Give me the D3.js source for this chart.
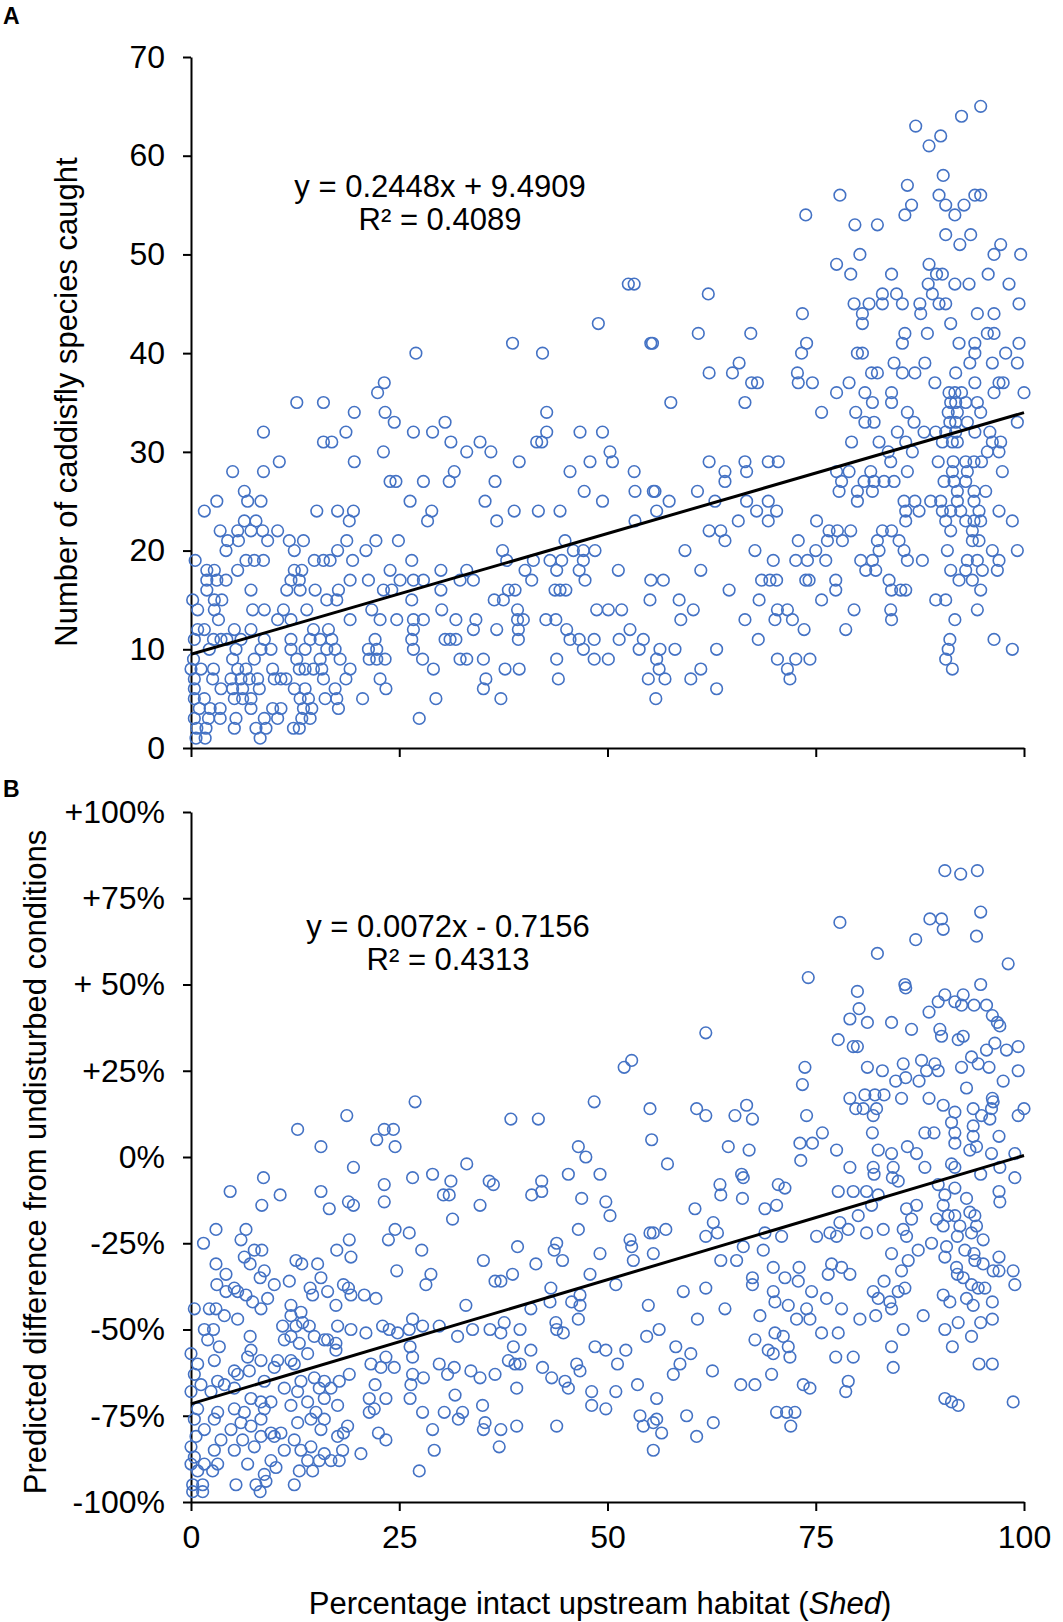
<!DOCTYPE html>
<html>
<head>
<meta charset="utf-8">
<script src="https://cdn.jsdelivr.net/npm/d3@7"></script>
<style>body{margin:0;background:#fff}</style>
</head>
<body>
<div id="chart"></div>
<script>
// Panel A: [Shed %, number of caddisfly species caught]
var pointsA = [
  [27.0,40],[23.2,37],[22.4,36],[12.7,35],[15.9,35],[19.6,34],[23.3,34],[24.4,33],[30.5,33],
  [8.7,32],[18.6,32],[26.7,32],[29.0,32],[15.9,31],[16.9,31],[31.2,31],[23.1,30],[33.1,30],
  [10.6,29],[19.6,29],[5.0,28],[8.7,28],[31.6,28],[23.9,27],[24.6,27],[27.9,27],[31.0,27],[6.4,26],
  [3.1,25],[6.8,25],[8.4,25],[26.3,25],[1.6,24],[15.1,24],[17.6,24],[19.5,24],[28.9,24],
  [6.4,23],[7.8,23],[19.0,23],[28.4,23],[3.5,22],[5.6,22],[7.2,22],[8.6,22],[10.4,22],
  [4.4,21],[5.7,21],[9.2,21],[11.8,21],[13.5,21],[18.7,21],[22.2,21],[24.9,21],
  [4.2,20],[12.4,20],[17.6,20],[21.0,20],
  [0.5,19],[6.6,19],[7.6,19],[8.7,19],[14.8,19],[15.9,19],[16.7,19],[19.4,19],[26.5,19],
  [1.9,18],[2.8,18],[5.6,18],[12.4,18],[13.3,18],[23.9,18],[30.0,18],[33.1,18],
  [1.9,17],[3.1,17],[4.2,17],[12.0,17],[13.0,17],[19.1,17],[21.3,17],[25.1,17],[26.7,17],[27.9,17],[32.3,17],[33.9,17],
  [1.9,16],[7.2,16],[11.5,16],[13.1,16],[14.9,16],[17.7,16],[23.1,16],[24.1,16],[30.0,16],
  [0.2,15],[2.8,15],[3.7,15],[16.3,15],[17.5,15],[26.5,15],
  [0.8,14],[2.8,14],[7.4,14],[8.8,14],[11.1,14],[13.9,14],[21.7,14],[30.1,14],
  [3.3,13],[10.4,13],[12.0,13],[19.1,13],[22.7,13],[24.7,13],[26.7,13],[27.9,13],[31.8,13],[34.2,13],
  [0.8,12],[1.6,12],[5.2,12],[7.2,12],[14.7,12],[16.5,12],[26.7,12],[33.9,12],
  [0.4,11],[2.7,11],[3.6,11],[4.3,11],[6.0,11],[8.8,11],[12.0,11],[14.3,11],[15.5,11],[16.9,11],[22.1,11],[26.5,11],[30.5,11],[31.1,11],[31.8,11],
  [2.2,10],[5.4,10],[8.4,10],[9.6,10],[12.0,10],[13.7,10],[16.3,10],[17.3,10],[21.3,10],[22.3,10],[26.7,10],
  [0.3,9],[5.0,9],[7.6,9],[12.7,9],[15.5,9],[17.9,9],[21.4,9],[22.3,9],[23.3,9],[27.8,9],[32.3,9],[33.1,9],
  [0.0,8],[1.2,8],[2.7,8],[5.6,8],[6.6,8],[9.8,8],[13.0,8],[13.7,8],[14.7,8],[15.7,8],[19.1,8],[29.1,8],
  [0.4,7],[2.6,7],[4.8,7],[6.0,7],[7.0,7],[8.0,7],[10.0,7],[10.8,7],[11.4,7],[15.9,7],[18.6,7],[22.7,7],
  [0.4,6],[3.6,6],[5.0,6],[6.2,6],[8.2,6],[12.4,6],[13.7,6],[17.3,6],[23.4,6],
  [0.4,5],[1.6,5],[5.2,5],[6.2,5],[7.2,5],[13.1,5],[14.1,5],[16.1,5],[17.5,5],[20.6,5],[29.4,5],
  [1.0,4],[2.3,4],[3.5,4],[7.2,4],[9.8,4],[10.8,4],[13.5,4],[14.5,4],[17.7,4],
  [0.4,3],[2.1,3],[3.5,3],[5.4,3],[8.8,3],[10.4,3],[13.3,3],[14.3,3],[27.4,3],
  [0.7,2],[1.8,2],[5.2,2],[7.8,2],[9.0,2],[12.3,2],[13.0,2],[0.6,1],[1.7,1],[8.3,1],
  // middle
  [52.5,47],[53.2,47],[62.1,46],[48.9,43],[60.9,42],[67.2,42],[38.6,41],[55.2,41],[55.4,41],[42.2,40],
  [65.8,39],[62.2,38],[65.0,38],[67.3,37],[68.0,37],[57.6,35],[66.5,35],[42.7,34],
  [42.7,32],[46.7,32],[49.4,32],[34.7,31],[41.5,31],[42.1,31],[36.0,30],[50.3,30],
  [39.4,29],[47.9,29],[50.6,29],[62.2,29],[66.5,29],[69.3,29],[70.5,29],
  [45.5,28],[53.2,28],[64.1,28],[66.7,28],[36.5,27],[64.1,27],
  [47.2,26],[53.3,26],[55.5,26],[55.7,26],[60.8,26],[35.3,25],[49.4,25],[57.4,25],[62.9,25],[66.7,25],[69.3,25],
  [38.8,24],[41.7,24],[44.3,24],[55.9,24],[67.9,24],[70.3,24],[36.7,23],[53.3,23],[65.7,23],[69.3,23],
  [62.2,22],[63.6,22],[44.9,21],[64.1,21],[37.4,20],[45.9,20],[47.1,20],[48.5,20],[59.3,20],[67.7,20],
  [37.9,19],[41.1,19],[43.1,19],[44.5,19],[47.1,19],[69.9,19],[40.1,18],[43.9,18],[46.6,18],[51.3,18],[61.2,18],
  [40.9,17],[47.3,17],[55.2,17],[56.7,17],[68.5,17],[69.5,17],[70.3,17],
  [38.1,16],[38.9,16],[43.7,16],[44.3,16],[45.0,16],[64.6,16],[36.4,15],[37.5,15],[55.1,15],[58.6,15],[68.2,15],
  [39.2,14],[48.7,14],[50.1,14],[51.7,14],[60.3,14],[70.4,14],
  [39.2,13],[39.9,13],[42.6,13],[43.8,13],[58.8,13],[66.5,13],[70.1,13],[36.7,12],[39.3,12],[45.1,12],[52.7,12],
  [39.3,11],[45.5,11],[46.6,11],[48.4,11],[51.4,11],[54.3,11],[68.1,11],
  [47.1,10],[53.8,10],[56.3,10],[58.1,10],[63.1,10],[35.1,9],[43.9,9],[48.4,9],[50.1,9],[55.9,9],[70.4,9],
  [37.7,8],[39.4,8],[56.2,8],[61.2,8],[35.4,7],[44.1,7],[54.9,7],[56.9,7],[60.0,7],[35.1,6],[63.1,6],[37.2,5],[55.8,5],
  // right
  [94.8,65],[92.5,64],[87.0,63],[90.0,62],[88.6,61],[90.3,58],[86.0,57],
  [77.9,56],[89.8,56],[94.1,56],[94.8,56],[86.5,55],[90.6,55],[92.8,55],[73.8,54],[85.7,54],[91.7,54],
  [79.7,53],[82.4,53],[90.6,52],[93.6,52],[92.3,51],[97.2,51],[80.3,50],[96.4,50],[99.6,50],[77.5,49],[88.6,49],
  [79.2,48],[84.1,48],[89.5,48],[90.2,48],[95.7,48],[88.5,47],[91.7,47],[93.4,47],[98.2,47],
  [83.0,46],[84.7,46],[89.0,46],[79.6,45],[81.4,45],[83.0,45],[85.4,45],[87.5,45],[89.8,45],[90.6,45],[99.4,45],
  [73.4,44],[80.6,44],[87.6,44],[94.4,44],[96.4,44],[80.6,43],[91.2,43],
  [85.7,42],[88.4,42],[95.6,42],[96.4,42],[73.9,41],[85.4,41],[92.2,41],[94.1,41],[99.4,41],
  [73.3,40],[80.0,40],[80.6,40],[94.1,40],[97.8,40],[84.4,39],[88.1,39],[93.5,39],[96.2,39],[99.2,39],
  [72.8,38],[81.7,38],[82.4,38],[85.4,38],[86.9,38],[91.8,38],
  [72.9,37],[74.6,37],[79.0,37],[89.3,37],[94.1,37],[97.0,37],[97.5,37],
  [77.5,36],[80.9,36],[84.1,36],[91.0,36],[91.7,36],[92.5,36],[96.4,36],[100,36],
  [81.8,35],[84.1,35],[91.2,35],[91.8,35],[93.0,35],[94.4,35],
  [75.7,34],[79.8,34],[86.0,34],[90.9,34],[92.0,34],[94.8,34],
  [80.9,33],[82.0,33],[86.8,33],[91.1,33],[91.8,33],[93.2,33],[99.2,33],
  [84.8,32],[88.0,32],[89.4,32],[90.6,32],[91.8,32],[94.1,32],[95.9,32],
  [79.3,31],[82.6,31],[85.8,31],[90.2,31],[91.4,31],[92.0,31],[96.2,31],[97.2,31],
  [95.6,30],[97.0,30],[83.7,30],[86.6,30],[84.0,29],[89.7,29],[91.5,29],[93.0,29],[94.0,29],[94.9,29],
  [77.5,28],[79.0,28],[81.6,28],[86.0,28],[91.4,28],[93.2,28],[97.4,28],
  [78.1,27],[80.8,27],[82.0,27],[83.2,27],[84.4,27],[90.4,27],[91.6,27],[93.0,27],
  [77.8,26],[80.0,26],[81.8,26],[92.0,26],[94.0,26],[95.4,26],
  [80.0,25],[85.6,25],[86.9,25],[88.8,25],[90.0,25],[92.0,25],[94.0,25],
  [85.8,24],[87.4,24],[90.2,24],[91.2,24],[92.4,24],[94.6,24],[97.0,24],
  [75.1,23],[85.8,23],[90.6,23],[93.0,23],[94.0,23],[94.8,23],[98.6,23],
  [76.6,22],[77.6,22],[79.2,22],[83.0,22],[84.1,22],[91.2,22],[93.8,22],
  [72.9,21],[76.4,21],[78.2,21],[82.4,21],[85.0,21],[93.8,21],[94.6,21],
  [75.0,20],[82.6,20],[85.6,20],[90.8,20],[96.2,20],[99.2,20],
  [72.6,19],[74.0,19],[76.2,19],[80.4,19],[81.8,19],[86.0,19],[87.8,19],[93.2,19],[94.4,19],[97.0,19],
  [81.0,18],[82.2,18],[91.2,18],[93.0,18],[95.0,18],[96.8,18],
  [73.8,17],[74.2,17],[77.4,17],[83.8,17],[92.2,17],[93.8,17],
  [84.1,16],[85.2,16],[85.8,16],[77.4,16],[94.8,16],[75.7,15],[89.4,15],[90.6,15],
  [71.6,14],[79.6,14],[84.0,14],[94.4,14],[72.2,13],[84.1,13],[91.7,13],[73.6,12],[78.6,12],
  [91.1,11],[96.4,11],[98.6,10],[90.9,10],[72.6,9],[74.3,9],[90.6,9],[71.6,8],[91.4,8],[71.9,7]
];

// Panel B: [Shed %, predicted difference from undisturbed conditions, %]
var pointsB = [
  [26.9,16],[18.7,12],[12.8,8],[23.2,8],[24.3,8],[22.3,5],[24.5,3],[15.6,3],[19.5,-3],[33.1,-2],
  [8.7,-6],[26.6,-6],[29.0,-5],[31.2,-7],[4.7,-10],[10.7,-11],[15.6,-10],[23.2,-8],
  [8.5,-14],[16.6,-15],[18.9,-13],[19.5,-14],[23.2,-13],[30.3,-11],[31.0,-11],
  [3.0,-21],[6.6,-21],[24.5,-21],[26.2,-22],[31.4,-18],[1.5,-25],[6.0,-24],[19.0,-24],[23.7,-24],
  [7.6,-27],[8.5,-27],[17.5,-27],[27.7,-27],[6.4,-29],[19.2,-29],[3.0,-31],[7.1,-31],[12.6,-30],[13.3,-31],[15.2,-31],
  [24.7,-33],[8.8,-33],[28.8,-34],[4.2,-34],[8.3,-35],[15.6,-35],
  [3.1,-37],[10.0,-37],[11.8,-36],[28.2,-37],[5.2,-38],[14.3,-38],[18.3,-37],[18.9,-38],
  [4.2,-39],[5.6,-39],[14.6,-40],[16.4,-39],[19.2,-40],[20.8,-40],[22.2,-41],
  [6.6,-40],[7.4,-42],[8.4,-44],[9.2,-41],[17.4,-43],[33.0,-43],[0.4,-44],[2.2,-44],[3.0,-44],[12.0,-43],[13.2,-45],
  [4.0,-46],[5.6,-47],[12.0,-46],
  [1.6,-50],[2.7,-50],[11.0,-49],[12.6,-49],[13.4,-48],[14.2,-49],[17.6,-49],[19.2,-50],[21.0,-51],[23.0,-49],
  [23.8,-50],[24.8,-51],[26.6,-47],[27.8,-49],[29.8,-49],[33.8,-50],
  [7.1,-52],[12.0,-52],[14.8,-52],[16.0,-53],[26.2,-50],[32.0,-52],[2.0,-53],[11.2,-53],[13.0,-54],[16.4,-53],[17.4,-54],
  [3.4,-55],[0.0,-57],[7.2,-56],[14.0,-57],[17.4,-56],[26.3,-55],
  [2.8,-59],[8.4,-59],[6.8,-58],[10.4,-59],[12.0,-59],[21.6,-60],[23.4,-58],[26.6,-58],
  [0.8,-60],[5.2,-62],[10.0,-61],[12.4,-60],[22.8,-61],[24.4,-61],[29.8,-60],[31.6,-61],[33.6,-62],
  [0.4,-63],[3.2,-65],[5.6,-63],[7.0,-62],[14.8,-64],[19.0,-63],[30.8,-63],
  [1.2,-66],[4.0,-66],[8.8,-65],[13.2,-65],[16.0,-65],[17.8,-65],[26.6,-63],[27.9,-64],
  [0.0,-68],[2.4,-68],[5.2,-67],[11.2,-67],[12.8,-68],[15.4,-67],[16.8,-67],[22.1,-66],[26.4,-66],
  [7.2,-70],[8.4,-71],[9.6,-71],[12.0,-72],[14.0,-71],[16.0,-70],[21.4,-70],[23.4,-70],[26.3,-70],[31.7,-69],
  [0.8,-73],[3.2,-74],[5.2,-73],[6.4,-74],[8.8,-73],[15.0,-74],[17.6,-72],[21.4,-74],[22.0,-73],
  [0.4,-76],[2.8,-76],[6.0,-77],[8.4,-76],[12.8,-77],[14.4,-76],[16.0,-76],[27.8,-74],[30.4,-74],[32.6,-74],[32.1,-76],
  [1.6,-79],[4.8,-79],[7.2,-78],[9.6,-80],[10.8,-80],[15.6,-79],[18.3,-80],[18.8,-78],[29.0,-79],
  [0.6,-81],[3.6,-82],[6.2,-82],[8.4,-81],[10.0,-81],[12.4,-82],[17.6,-81],[22.5,-80],[23.4,-82],
  [2.8,-85],[5.2,-85],[7.6,-84],[11.2,-85],[13.2,-85],[14.4,-84],[16.0,-86],[18.2,-85],[20.4,-86],[29.2,-85],
  [0.4,-87],[1.6,-89],[3.2,-89],[6.8,-89],[9.6,-88],[14.0,-88],[15.4,-88],[16.8,-88],[17.8,-88],
  [0.8,-91],[2.6,-91],[8.8,-92],[10.2,-90],[13.0,-91],[14.6,-91],[27.4,-91],
  [0.2,-95],[1.4,-95],[5.4,-95],[7.8,-95],[9.0,-94],[12.4,-95],[0.2,-97],[1.4,-97],[8.3,-97],[0.0,-89],[0.0,-84],
  // middle
  [61.8,36],[52.9,28],[52.0,26],[48.4,16],[38.4,11],[41.7,11],[55.1,14],[60.7,14],[61.8,12],[65.3,12],[66.7,15],[67.4,11],
  [55.3,5],[57.2,-2],[46.5,3],[47.4,0],[64.5,3],[67.0,2],
  [35.8,-7],[36.3,-8],[42.1,-7],[40.9,-11],[42.1,-10],[45.3,-5],[49.1,-5],[34.7,-14],
  [46.9,-12],[49.8,-13],[50.3,-17],[63.5,-8],[63.6,-11],[66.1,-5],[66.3,-6],[66.2,-12],
  [70.5,-8],[68.9,-15],[70.3,-14],[60.5,-15],[62.7,-19],[61.8,-23],[63.2,-22],
  [46.5,-21],[43.9,-25],[43.6,-27],[44.6,-30],[39.2,-26],[35.1,-30],
  [41.4,-31],[38.6,-34],[36.5,-36],[37.2,-36],[49.1,-28],[47.9,-34],[51.0,-37],
  [52.7,-24],[52.9,-26],[53.1,-30],[55.1,-22],[55.5,-22],[57.0,-21],[55.5,-28],
  [63.6,-30],[65.5,-30],[66.3,-26],[68.9,-22],[68.7,-27],[69.9,-32],[67.4,-35],[67.4,-37],
  [43.2,-38],[43.1,-42],[45.7,-42],[46.7,-40],[46.7,-43],[46.5,-47],
  [40.8,-44],[37.6,-48],[35.9,-50],[37.2,-51],[39.5,-50],[43.8,-48],[43.9,-50],[44.7,-51],
  [54.9,-43],[59.1,-39],[61.8,-38],[64.1,-44],[60.8,-47],[68.3,-46],[69.9,-39],[70.1,-42],
  [54.7,-52],[56.2,-50],[67.7,-53],[70.1,-51],
  [38.7,-55],[40.8,-56],[38.1,-59],[38.9,-60],[39.5,-60],[36.5,-63],[39.1,-67],
  [34.7,-64],[35.0,-72],[35.3,-77],[35.1,-79],[37.2,-79],[39.1,-78],[37.0,-84],
  [48.5,-55],[49.8,-56],[52.2,-56],[51.2,-60],[42.2,-61],[43.3,-64],[44.9,-65],[45.3,-67],[46.3,-60],[46.7,-62],
  [48.1,-68],[48.1,-72],[49.8,-73],[51.0,-68],[43.9,-78],
  [53.6,-66],[55.9,-70],[53.9,-75],[54.3,-78],[55.5,-77],[55.9,-76],[56.5,-80],[55.5,-85],
  [58.2,-55],[58.7,-60],[60.0,-57],[57.9,-63],[62.6,-62],[66.0,-66],[67.7,-66],
  [59.5,-75],[62.7,-77],[60.7,-81],[69.3,-56],[69.9,-57],[69.7,-63],[70.3,-74],
  // right
  [90.5,83],[92.4,82],[94.4,83],[77.9,68],[88.7,69],[90.1,69],[90.3,66],[94.8,71],[94.3,64],[87.0,63],[82.4,59],[98.1,56],
  [74.1,52],[85.7,50],[85.8,49],[80.0,48],[94.8,50],[90.5,47],[92.7,47],[89.7,45],[91.7,45],[88.6,42],[92.5,44],
  [94.0,44],[95.5,44],[96.2,41],[97.1,38],[96.8,39],[80.2,43],[79.1,40],[81.2,39],[84.1,39],[86.5,37],
  [77.7,34],[79.5,32],[80.0,32],[89.9,37],[90.1,35],[92.1,34],[92.7,35],[73.7,26],[73.4,21],
  [81.2,26],[83.0,25],[85.5,27],[87.7,28],[89.3,27],[89.7,25],[85.8,23],[84.6,22],[87.4,22],[88.3,25],
  [92.5,26],[93.7,29],[94.5,27],[95.8,26],[95.5,31],[96.5,33],[97.9,31],[99.3,32],[99.3,25],[97.5,22],
  [79.1,17],[80.9,18],[82.1,18],[83.2,18],[79.8,14],[80.7,14],[82.3,14],[81.9,12],[85.3,17],[88.6,17],
  [93.1,20],[96.2,17],[96.3,16],[96.1,14],[90.3,15],[91.7,13],[93.9,14],[94.9,12],[95.9,11],[100,14],[99.3,12],
  [73.9,12],[75.8,7],[73.1,4],[74.6,4],[77.5,2],[81.8,7],[88.1,7],[89.2,7],[91.3,10],[91.7,7],[93.9,9],[93.9,6],[97.0,6],
  [82.5,2],[84.1,1],[86.0,3],[87.1,1],[91.7,4],[93.5,2],[94.3,3],[96.1,1],[98.9,1],
  [73.2,-1],[79.1,-3],[81.9,-3],[82.0,-5],[84.3,-3],[84.2,-6],[84.9,-7],[88.1,-3],[91.3,-2],[91.7,-3],[94.8,-5],[97.1,-3],[98.9,-6],
  [71.3,-9],[77.7,-10],[79.5,-10],[81.1,-10],[82.5,-11],[81.7,-14],[89.7,-8],[90.5,-11],[91.7,-9],[93.1,-12],[97.0,-10],[97.1,-13],
  [85.9,-15],[87.1,-14],[86.5,-18],[90.3,-14],[90.9,-17],[91.7,-17],[93.5,-16],[94.1,-17],[80.1,-17],[77.9,-19],
  [89.5,-18],[90.3,-20],[92.3,-20],[94.3,-20],[70.9,-23],[75.1,-23],[76.7,-22],[77.5,-23],[78.9,-21],[81.1,-22],
  [83.1,-21],[85.5,-21],[85.9,-23],[92.0,-23],[93.7,-22],[95.1,-24],[88.9,-25],[90.7,-26],[90.5,-29],[84.1,-28],
  [86.1,-30],[87.3,-27],[92.9,-27],[94.0,-28],[94.1,-30],[97.0,-29],[73.0,-32],[76.9,-31],[78.1,-32],[79.1,-34],
  [71.3,-35],[72.9,-36],[76.5,-34],[85.3,-33],[91.9,-32],[92.0,-34],[95.1,-31],[96.3,-33],[97.0,-33],[98.7,-33],[98.9,-37],
  [83.2,-36],[84.9,-39],[85.7,-38],[81.9,-39],[82.5,-41],[83.9,-42],[84.1,-44],[92.7,-35],[93.7,-37],[94.5,-38],[95.3,-38],
  [90.3,-40],[91.1,-42],[93.1,-41],[93.9,-43],[96.2,-42],[71.7,-43],[74.5,-39],[76.3,-41],[73.9,-44],[74.3,-47],[72.7,-47],
  [78.1,-44],[80.3,-47],[82.2,-46],[87.9,-46],[92.1,-48],[94.8,-48],[96.2,-47],[75.7,-51],[77.7,-51],[85.5,-50],
  [90.5,-50],[93.7,-52],[71.1,-52],[71.7,-55],[71.9,-58],[84.1,-55],[91.4,-55],[77.4,-58],[79.5,-58],[84.3,-61],
  [94.6,-60],[96.2,-60],[73.5,-66],[74.3,-67],[78.9,-65],[78.6,-68],[90.5,-70],[91.3,-71],[92.1,-72],[98.7,-71],
  [71.5,-74],[72.5,-74],[72.0,-78]
];

// Fitted lines as printed on the chart
var fitA = {slope: 0.2448, intercept: 9.4909};
var fitB = {slope: 0.0072, intercept: -0.7156};
var eqA = ['y = 0.2448x + 9.4909', 'R² = 0.4089'];
var eqB = ['y = 0.0072x - 0.7156', 'R² = 0.4313'];

var xTicks = [0, 25, 50, 75, 100];
var yTicksA = [0, 10, 20, 30, 40, 50, 60, 70];
var yTicksB = [-100, -75, -50, -25, 0, 25, 50, 75, 100];
var yLabelsB = ['-100%', '-75%', '-50%', '-25%', '0%', '+25%', '+ 50%', '+75%', '+100%'];

var font = '"Liberation Sans", Arial, Helvetica, sans-serif';
var blue = '#4472C4';

var svg = d3.select('#chart')
    .append('svg')
    .attr('width', 1063)
    .attr('height', 1622)
    .style('background', '#fff');

// Scales
var x = d3.scaleLinear().domain([0, 100]).range([191, 1024]);
var yA = d3.scaleLinear().domain([0, 70]).range([748, 57]);
var yB = d3.scaleLinear().domain([-100, 100]).range([1502, 812]);

function styleAxis(g) {
    g.attr('font-family', null).attr('font-size', null);
    g.selectAll('path, line').attr('stroke', '#000').attr('stroke-width', 2);
    g.selectAll('text').attr('font-family', font).attr('font-size', 32).attr('fill', '#000');
}

// Panel A axes
svg.append('g')
    .attr('transform', 'translate(191,0)')
    .call(d3.axisLeft(yA).tickValues(yTicksA).tickFormat(d3.format('d'))
        .tickSize(8).tickSizeOuter(0).tickPadding(18))
    .call(styleAxis);
svg.append('g')
    .attr('transform', 'translate(0,748)')
    .call(d3.axisBottom(x).tickValues(xTicks).tickFormat('')
        .tickSize(9).tickSizeOuter(0))
    .call(styleAxis);

// Panel B axes
svg.append('g')
    .attr('transform', 'translate(191,0)')
    .call(d3.axisLeft(yB).tickValues(yTicksB)
        .tickFormat(function (d, i) { return yLabelsB[i]; })
        .tickSize(8).tickSizeOuter(0).tickPadding(18))
    .call(styleAxis);
svg.append('g')
    .attr('transform', 'translate(0,1502)')
    .call(d3.axisBottom(x).tickValues(xTicks).tickFormat(d3.format('d'))
        .tickSize(9).tickSizeOuter(0).tickPadding(14))
    .call(styleAxis);

// Circles
function drawPoints(data, y) {
    svg.append('g').selectAll('circle')
        .data(data)
        .enter()
        .append('circle')
        .attr('cx', function (d) { return x(d[0]); })
        .attr('cy', function (d) { return y(d[1]); })
        .attr('r', 5.8)
        .attr('fill', 'none')
        .attr('stroke', blue)
        .attr('stroke-width', 1.6);
}
drawPoints(pointsA, yA);
drawPoints(pointsB, yB);

// Trend lines
var line = d3.line();
svg.append('path')
    .attr('d', line(xTicks.filter(function (d) { return d === 0 || d === 100; })
        .map(function (d) { return [x(d), yA(fitA.slope * d + fitA.intercept)]; })))
    .attr('stroke', '#000').attr('stroke-width', 3).attr('fill', 'none');
svg.append('path')
    .attr('d', line(xTicks.filter(function (d) { return d === 0 || d === 100; })
        .map(function (d) { return [x(d), yB((fitB.slope * d + fitB.intercept) * 100)]; })))
    .attr('stroke', '#000').attr('stroke-width', 3).attr('fill', 'none');

// Equations
function equation(lines, cx, y0) {
    svg.append('g').selectAll('text')
        .data(lines)
        .enter()
        .append('text')
        .attr('x', cx)
        .attr('y', function (d, i) { return y0 + i * 33; })
        .attr('text-anchor', 'middle')
        .attr('font-family', font)
        .attr('font-size', 31)
        .text(function (d) { return d; });
}
equation(eqA, 440, 197);
equation(eqB, 448, 937);

// Axis titles
svg.append('text')
    .attr('transform', 'translate(77,402) rotate(-90)')
    .attr('text-anchor', 'middle')
    .attr('font-family', font).attr('font-size', 31)
    .text('Number of caddisfly species caught');
svg.append('text')
    .attr('transform', 'translate(46,1162) rotate(-90)')
    .attr('text-anchor', 'middle')
    .attr('font-family', font).attr('font-size', 31)
    .text('Predicted difference from undisturbed conditions');

var xt = svg.append('text')
    .attr('x', 600).attr('y', 1614)
    .attr('text-anchor', 'middle')
    .attr('font-family', font).attr('font-size', 31);
xt.append('tspan').text('Percentage intact upstream habitat (');
xt.append('tspan').attr('font-style', 'italic').text('Shed');
xt.append('tspan').text(')');

// Panel letters
svg.append('text').attr('x', 3).attr('y', 24)
    .attr('font-family', font).attr('font-weight', 'bold').attr('font-size', 23).text('A');
svg.append('text').attr('x', 3).attr('y', 797)
    .attr('font-family', font).attr('font-weight', 'bold').attr('font-size', 23).text('B');
</script>
</body>
</html>
